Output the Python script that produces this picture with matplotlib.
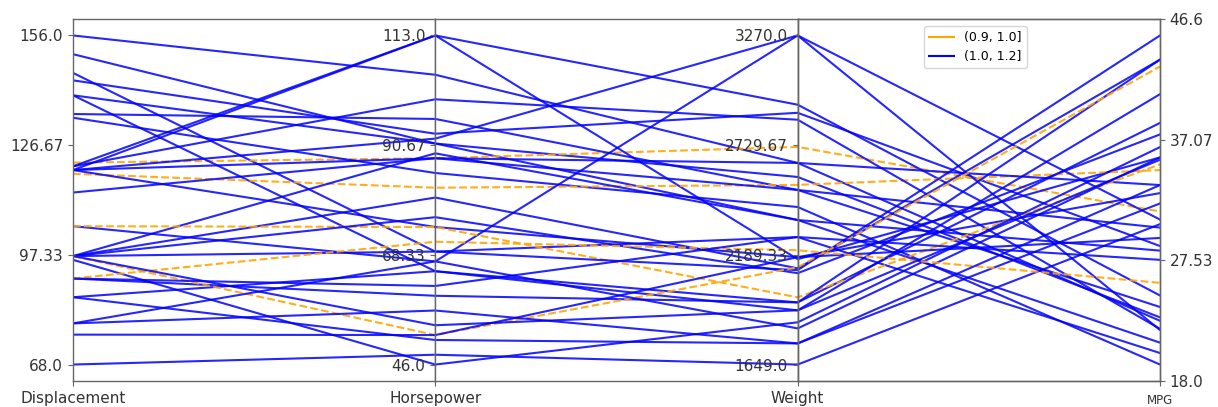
import numpy as np
import matplotlib
matplotlib.use('Agg')
import matplotlib.pyplot as plt
from matplotlib.lines import Line2D

cols = ['Displacement', 'Horsepower', 'Weight', 'MPG']

displacement = [156, 151, 146, 144, 140, 122, 140, 135, 134, 121, 120, 119, 121, 120, 120,
                120, 114, 105, 97, 97, 105, 97, 96, 97, 91, 86, 97, 79, 79, 76,
                68, 91, 97, 91, 86]
horsepower = [105, 91, 69, 93, 91, 88, 65, 96, 85, 113, 113, 82, 100, 92, 88,
              74, 88, 67, 89, 80, 74, 76, 46, 69, 60, 65, 52, 67, 57, 52,
              48, 71, 54, 62, 51]
weight = [2642, 2361, 2277, 2889, 2573, 2721, 1955, 2509, 2425, 2929, 2168, 2534, 2855, 3270, 2642,
          2178, 2509, 3270, 2361, 2123, 1980, 2099, 1857, 2114, 1955, 1916, 2128, 1827, 1753, 2178,
          1649, 2212, 1916, 2277, 1753]
mpg = [21.8, 19.9, 19.0, 28.3, 22.1, 31.3, 39.0, 23.0, 18.0, 24.0, 36.0, 34.9, 21.1, 30.6, 33.6,
       32.9, 29.9, 21.0, 27.9, 44.5, 35.4, 38.0, 36.9, 46.6, 44.5, 41.5, 43.9, 36.0, 32.0, 29.0,
       30.2, 25.1, 35.8, 27.1, 33.6]
category = ['(1.0, 1.2]', '(1.0, 1.2]', '(1.0, 1.2]', '(1.0, 1.2]', '(1.0, 1.2]', '(0.9, 1.0]',
            '(1.0, 1.2]', '(1.0, 1.2]', '(1.0, 1.2]', '(1.0, 1.2]', '(1.0, 1.2]', '(0.9, 1.0]',
            '(1.0, 1.2]', '(1.0, 1.2]', '(1.0, 1.2]', '(1.0, 1.2]', '(1.0, 1.2]', '(1.0, 1.2]',
            '(1.0, 1.2]', '(1.0, 1.2]', '(0.9, 1.0]', '(1.0, 1.2]', '(1.0, 1.2]', '(1.0, 1.2]',
            '(1.0, 1.2]', '(1.0, 1.2]', '(0.9, 1.0]', '(1.0, 1.2]', '(1.0, 1.2]', '(1.0, 1.2]',
            '(1.0, 1.2]', '(0.9, 1.0]', '(1.0, 1.2]', '(1.0, 1.2]', '(1.0, 1.2]']
cat_labels = ['(0.9, 1.0]', '(1.0, 1.2]']
cat_colors = {'(0.9, 1.0]': 'orange', '(1.0, 1.2]': 'blue'}
cat_styles = {'(0.9, 1.0]': '--', '(1.0, 1.2]': '-'}

data = np.array([displacement, horsepower, weight, mpg], dtype=float)
mins = data.min(axis=1)
maxs = data.max(axis=1)
norm = (data - mins[:, None]) / (maxs - mins)[:, None]
n = data.shape[1]
x = [0, 1, 2, 3]
spine_c = '0.4'
txt_c = '0.2'

fig, axes = plt.subplots(1, 3, figsize=(12.18, 4.07), dpi=100, sharey=False)
fig.subplots_adjust(left=0.0599, right=0.9524, bottom=0.0639, top=0.9533, wspace=0)

def tick_labels(k):
    vals = np.linspace(mins[k], maxs[k], 4)
    return [str(round(float(v), 2)) for v in vals]

for i, ax in enumerate(axes):
    for j in range(n):
        c = category[j]
        ax.plot(x, norm[:, j], color=cat_colors[c], ls=cat_styles[c], lw=1.5,
                alpha=0.85 if c == '(1.0, 1.2]' else 0.9)
    ax.set_xlim(x[i], x[i + 1])
    ax.set_ylim(-0.05, 1.05)
    ax.set_yticks(np.linspace(0, 1, 4))
    ax.set_yticklabels(tick_labels(i))
    ax.set_xticks([x[i]])
    ax.set_xticklabels([cols[i]])
    ax.tick_params(labelsize=11, colors=spine_c, labelcolor=txt_c)
    for s in ax.spines.values():
        s.set_color(spine_c)
        s.set_linewidth(1.0)

axes[2].set_xticks([x[2], x[3]])
axes[2].set_xticklabels([cols[2], cols[3]])
axes[2].get_xticklabels()[1].set_fontsize(8.5)
axes[2].get_xticklabels()[1].set_y(-0.01)

ax2 = axes[2].twinx()
ax2.set_ylim(0, 1)
ax2.set_yticks(np.linspace(0, 1, 4))
ax2.set_yticklabels(tick_labels(3))
ax2.tick_params(labelsize=11, colors=spine_c, labelcolor=txt_c)
for s in ax2.spines.values():
    s.set_color(spine_c)
    s.set_linewidth(1.0)

handles = [Line2D([0, 1], [0, 0], color=cat_colors[c]) for c in cat_labels]
ax2.legend(handles, cat_labels, loc='upper left', fontsize=9,
           bbox_to_anchor=(924 / 1218, 1 - 26 / 407), bbox_transform=fig.transFigure,
           borderaxespad=0.0)

fig.savefig('out.png', dpi=100)
